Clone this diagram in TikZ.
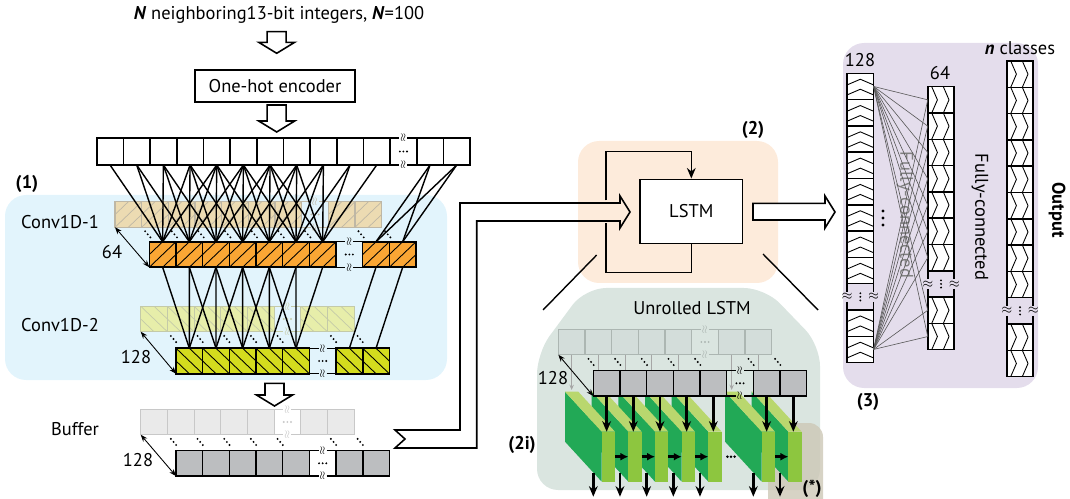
\documentclass[tikz,border=0pt]{standalone}
\usepackage{fontspec}
\setmainfont{PT Sans}
\usetikzlibrary{positioning,arrows.meta,calc}
\definecolor{convblue}{RGB}{226,244,252}
\definecolor{lstmpeach}{RGB}{253,235,219}
\definecolor{unrollgray}{RGB}{218,229,224}
\definecolor{starbox}{RGB}{205,200,182}
\definecolor{fcpurple}{RGB}{228,221,236}
\definecolor{convorange}{RGB}{250,166,52}
\definecolor{tanfill}{RGB}{236,219,178}
\definecolor{tanline}{RGB}{190,183,165}
\definecolor{convyg}{RGB}{212,220,30}
\definecolor{lygfill}{RGB}{231,238,170}
\definecolor{lygline}{RGB}{196,202,168}
\definecolor{bufgray}{RGB}{188,190,192}
\definecolor{bufback}{RGB}{234,234,234}
\definecolor{bufbackline}{RGB}{200,200,200}
\definecolor{unback}{RGB}{211,221,218}
\definecolor{unbackline}{RGB}{172,182,178}
\definecolor{sidegreen}{RGB}{34,169,86}
\definecolor{topgreen}{RGB}{185,215,110}
\definecolor{facegreen}{RGB}{141,198,63}
\tikzset{
  cellbase/.style={line width=0.9pt,minimum width=0.533cm,minimum height=0.51cm,inner sep=0pt,outer sep=0pt},
  hatchne/.style={path picture={
    \draw[#1] (path picture bounding box.south west) -- (path picture bounding box.north east);
    \draw[#1] (path picture bounding box.west) -- (path picture bounding box.north);
    \draw[#1] (path picture bounding box.south) -- (path picture bounding box.east);}},
  hatchnw/.style={path picture={
    \draw[#1] (path picture bounding box.north west) -- (path picture bounding box.south east);
    \draw[#1] (path picture bounding box.west) -- (path picture bounding box.south);
    \draw[#1] (path picture bounding box.north) -- (path picture bounding box.east);}},
  incell/.style={cellbase,draw=black,fill=white,minimum height=0.54cm},
  orcell/.style={cellbase,draw=black,fill=convorange,hatchne={line width=0.5pt}},
  tancell/.style={cellbase,line width=0.6pt,draw=tanline,fill=tanfill,hatchne={tanline,line width=0.4pt}},
  ygcell/.style={cellbase,draw=black,fill=convyg,hatchnw={line width=0.5pt}},
  lygcell/.style={cellbase,line width=0.6pt,draw=lygline,fill=lygfill,hatchnw={lygline,line width=0.4pt}},
  gbcell/.style={cellbase,line width=0.6pt,draw=bufbackline,fill=bufback},
  gfcell/.style={cellbase,draw=black,fill=bufgray},
  ubcell/.style={cellbase,line width=0.6pt,draw=unbackline,fill=unback},
  chevup/.style={path picture={
    \foreach \vv in {-1.5,8.5}
      \draw[line width=0.5pt] ([shift={(-13.3,\vv)}]path picture bounding box.center) -- ++(13.3,-5.7) -- ++(13.3,5.7);}},
  chevright/.style={path picture={
    \foreach \hh in {-9.3,2.3}
      \draw[line width=0.5pt] ([shift={(\hh,-13.2)}]path picture bounding box.center) -- ++(5.7,13.2) -- ++(-5.7,13.2);}},
  fccell/.style={cellbase,draw=black,fill=white,minimum width=0.53cm,minimum height=0.526cm},
  fcup/.style={fccell,chevup},
  fcright/.style={fccell,chevright},
  face/.style={fill=facegreen,minimum width=0.267cm,minimum height=1cm,inner sep=0pt,outer sep=0pt},
  link/.style={line width=0.8pt},
  fcline/.style={line width=0.35pt,black!65},
  ddots/.style={line width=1.2pt,line cap=round,dash pattern=on 0pt off 2.3pt},
  dimarr/.style={line width=0.5pt,{Stealth[length=4pt,width=3pt]}-{Stealth[length=4pt,width=3pt]}},
  hollow/.style={line width=0.9pt,fill=white},
  loopline/.style={line width=0.9pt},
  darr/.style={line width=1.6pt,-{Stealth[length=6pt,width=5pt]}},
  harr/.style={line width=1.4pt,-{Latex[length=4.5pt,width=4.5pt]}},
  garr/.style={line width=0.5pt,black!35,-{Stealth[length=3pt,width=2.5pt]}},
  lbl/.style={font=\fontsize{10.5}{12}\selectfont\bfseries}
}
% row of cells with a break after #5 cells
\newcommand{\hrow}[8]{%
  \foreach \i in {1,...,#5}
    \node[#7] (#1-\i) at ({#2+26.67*(\i-0.5)},#3) {};
  \foreach \i in {1,...,#6}{
    \pgfmathtruncatemacro{\k}{#5+\i}
    \node[#7] (#1-\k) at ({#2+26.67*(\k+0.5)},#3) {};}
  \pgfmathsetmacro{\gx}{#2+26.67*(#5+0.5)}
  \foreach \s in {-1,1}{
    \draw[#8,line width=0.8pt] ({\gx-13.33},{#3+\s*#4}) -- ({\gx-4},{#3+\s*#4})
      ({\gx+4},{#3+\s*#4}) -- ({\gx+13.33},{#3+\s*#4});
    \node[#8,rotate=90,inner sep=0pt,font=\tiny] (#1-brk\s) at (\gx,{#3+\s*#4}) {$\approx$};}
  \foreach \d in {-3.6,0,3.6}
    \fill[#8] ({\gx+\d},#3) circle (0.6pt);}
% column of cells with a break after #4 cells
\newcommand{\vcol}[6]{%
  \foreach \i in {1,...,#4}
    \node[#6] (#1-\i) at (#2,{#3+26.3*(\i-0.5)}) {};
  \foreach \i in {1,...,#5}{
    \pgfmathtruncatemacro{\k}{#4+\i}
    \node[#6] (#1-\k) at (#2,{#3+26.3*(\k+0.5)}) {};}
  \pgfmathsetmacro{\gy}{#3+26.3*(#4+0.5)}
  \foreach \s in {-1,1}{
    \draw[line width=0.9pt] ({#2+\s*13.25},{\gy-13.15}) -- ({#2+\s*13.25},{\gy-5})
      ({#2+\s*13.25},{\gy+5}) -- ({#2+\s*13.25},{\gy+13.15});
    \node[inner sep=0pt,font=\scriptsize] (#1-brk\s) at ({#2+\s*13.25},\gy) {$\approx$};}
  \foreach \d in {-3.6,0,3.6}
    \fill ({#2},{\gy+\d}) circle (0.6pt);}
\newcommand{\depthdots}[3]{\foreach \i in {#3}
  \draw[ddots] ($(#1-\i.south east)!0.1!(#2-\i.south east)$) -- ($(#1-\i.south east)!0.32!(#2-\i.south east)$);}
\newcommand{\hollowdown}[3]{\draw[hollow] ({#1-9.5},#2) -- ({#1-9.5},{#3-11}) -- ({#1-18},{#3-11}) -- (#1,#3)
  -- ({#1+18},{#3-11}) -- ({#1+9.5},{#3-11}) -- ({#1+9.5},#2) -- cycle;}

\begin{document}
\begin{tikzpicture}[x=0.02cm,y=-0.02cm,font=\fontsize{10.5}{12}\selectfont]
\useasboundingbox (0,0) rectangle (1070,499);

% panels
\fill[convblue,rounded corners=12pt] (5,195) rectangle (447,380);
\fill[lstmpeach,rounded corners=12pt] (578,141) rectangle (778,283);
\fill[unrollgray,rounded corners=12pt] (537,420) -- (537,353) -- (585,288) -- (765,288) -- (820,345) -- (820,490) -- (537,490) -- cycle;
\fill[starbox,opacity=0.8,rounded corners=8pt] (768,423) rectangle (823,530);
\fill[fcpurple,rounded corners=12pt] (843,43) rectangle (1038,388);

% input and encoder
\node (title) at (279,15) {\textbf{\textit{N}} neighboring13-bit integers, \textbf{\textit{N}}=100};
\hollowdown{276.7}{31.7}{53.3}
\node[draw,line width=0.9pt,minimum width=3.2cm,minimum height=0.63cm] (enc) at (275,86) {One-hot encoder};
\hollowdown{276.7}{105}{132}
\hrow{in}{96.7}{151.5}{13.5}{11}{2}{incell}{black}

% (1) convolutions
\node[lbl] (lab1) at (27,184) {(1)};
\node (conv1lab) at (60,222) {Conv1D-1};
\node (conv2lab) at (60,325) {Conv1D-2};
\hrow{cab}{115}{214.5}{12.75}{7}{2}{tancell}{tanline}
\hrow{ca}{149.3}{254.5}{12.75}{7}{2}{orcell}{black}
\depthdots{cab}{ca}{1,...,9}
\draw[dimarr] (cab-1.south west) -- (ca-1.south west);
\node (n64) at (112,252) {64};
\foreach \j in {1,...,7}
  \foreach \d in {0,...,4}{
    \pgfmathtruncatemacro{\k}{\j+\d}
    \draw[link] (in-\k.south) -- (ca-\j.north);}
\foreach \k in {12,13}
  \foreach \j in {8,9}
    \draw[link] (in-\k.south) -- (ca-\j.north);
\hrow{cbb}{140.7}{319}{12.75}{5}{2}{lygcell}{lygline}
\hrow{cb}{176}{361}{12.75}{5}{2}{ygcell}{black}
\depthdots{cbb}{cb}{1,...,7}
\draw[dimarr] (cbb-1.south west) -- (cb-1.south west);
\node (n128a) at (136,357) {128};
\foreach \j in {1,...,5}
  \foreach \d in {0,1,2}{
    \pgfmathtruncatemacro{\k}{\j+\d}
    \draw[link] (ca-\k.south) -- (cb-\j.north);}
\draw[link] (ca-8.south) -- (cb-6.north);
\draw[link] (ca-9.south) -- (cb-7.north);

% buffer
\hollowdown{274.5}{383.3}{406}
\node (buflab) at (75,429) {Buffer};
\hrow{bb}{140.7}{422}{12.75}{5}{2}{gbcell}{bufbackline}
\hrow{bf}{176}{463.3}{12.75}{5}{2}{gfcell}{black}
\depthdots{bb}{bf}{1,...,7}
\draw[dimarr] (bb-1.south west) -- (bf-1.south west);
\node (n128b) at (138,460) {128};

% (2) LSTM
\node[lbl] (lab2) at (753,130) {(2)};
\node[draw,fill=white,line width=0.9pt,minimum width=2.054cm,minimum height=1.28cm] (lstm) at (691.3,211.3) {LSTM};
\draw[loopline] (lstm.south) -- (lstm.south |- 0,272.3) -| (606,223);
\draw[loopline,-{Stealth[length=6pt,width=5pt]}] (606,200.5) |- (lstm.north |- 0,151.7) -- (lstm.north);
\draw[line width=0.9pt] (395,430) -- (460,430) -- (460,203) -- (620,203) -- (620,196) -- (630,212) -- (620,228)
  -- (620,221) -- (476.7,221) -- (476.7,448) -- (395,448) -- (405,439) -- cycle;
\draw[line width=0.9pt,fill=white] (753,203.3) -- (825,203.3) -- (825,196) -- (835,212) -- (825,228) -- (825,220) -- (753,220) -- cycle;
\coordinate (zl1) at (596.7,255);
\coordinate (zl2) at (543,310);
\coordinate (zr1) at (763,254);
\coordinate (zr2) at (818,310);
\draw[line width=0.8pt] (zl1) -- (zl2);
\draw[line width=0.8pt] (zr1) -- (zr2);

% (2i) unrolled LSTM
\node (unroll) at (692,308) {Unrolled LSTM};
\node[lbl] (lab2i) at (522,445) {(2i)};
\hrow{ub}{558.3}{342}{12.75}{5}{2}{ubcell}{unbackline}
\foreach \i in {1,...,7}
  \draw[garr] (ub-\i.south) -- (ub-\i.south |- 0,390);
\foreach \k/\s in {7/8,6/7,5/5,4/4,3/3,2/2,1/1}{
  \pgfmathsetmacro{\xf}{601.7+26.67*(\s-1)}
  \fill[sidegreen] (\xf,431.7) -- ++(-36.7,-40) -- ++(0,50) -- ++(36.7,40) -- cycle;
  \fill[topgreen] (\xf,431.7) -- ++(-36.7,-40) -- ++(13.3,0) -- ++(36.7,40) -- cycle;
  \node[face] (blk-\k) at ({\xf+6.67},456.7) {};}
\foreach \a/\b in {1/2,2/3,3/4,4/5,6/7}
  \draw[harr] (blk-\a.east) -- (blk-\b.west);
\foreach \d in {-3.6,0,3.6}
  \fill ({731+\d},456.7) circle (0.8pt);
\hrow{uf}{593.3}{383.3}{12.75}{5}{2}{gfcell}{black}
\depthdots{ub}{uf}{1,...,7}
\draw[dimarr] (ub-1.south west) -- (uf-1.south west);
\node (n128c) at (553,378) {128};
\foreach \i in {1,...,7}
  \draw[darr] (uf-\i.south) -- (uf-\i.south |- blk-\i.north);
\foreach \k in {1,...,7}
  \draw[darr] ($(blk-\k.south west)+(-8.4,-9)$) -- ++(0,24);
\node[lbl] (labstar) at (812,489) {(*)};

% (3) fully connected
\node[lbl] (lab3) at (868,402) {(3)};
\node[rotate=-90,black!50] (fcgray) at (905,215) {Fully-connected};
\node[rotate=-90] (fcblack) at (980,217) {Fully-connected};
\node[rotate=-90,lbl] (outlab) at (1057,210) {Output};
\node (n128d) at (860,60) {128};
\node (n64b) at (940,73) {64};
\node (ncls) at (1020,48) {\textbf{\textit{n}} classes};
\vcol{fa}{860.3}{73.3}{8}{2}{fcup}
\vcol{fb}{941}{86.7}{7}{2}{fcright}
\vcol{fc}{1020}{61}{9}{2}{fcright}
\foreach \s in {1,10}
  \foreach \t in {1,...,9}
    \draw[fcline] (fa-\s.east) -- (fb-\t.west);
\foreach \d in {-7,0,7}
  \fill (883,{218+\d}) circle (0.9pt);
\end{tikzpicture}
\end{document}
